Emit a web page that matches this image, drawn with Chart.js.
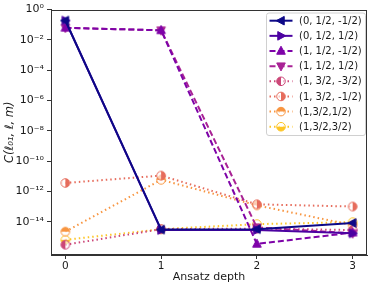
<!DOCTYPE html>
<html><head><meta charset="utf-8">
<script src="https://cdn.jsdelivr.net/npm/chart.js@4/dist/chart.umd.min.js"></script>
<style>html,body{margin:0;padding:0;background:#fff}canvas{display:block}</style>
</head><body>
<canvas id="c" width="374" height="287"></canvas>
<script>
const depths = [0, 1, 2, 3];
const labels = ["(0, 1/2, -1/2)", "(0, 1/2, 1/2)", "(1, 1/2, -1/2)", "(1, 1/2, 1/2)",
                "(1, 3/2, -3/2)", "(1, 3/2, -1/2)", "(1,3/2,1/2)", "(1,3/2,3/2)"];
const s0 = [0.19, 3.0e-15, 3.2e-15, 8.3e-15];
const s1 = [0.19, 2.8e-15, 2.8e-15, 1.7e-15];
const s2 = [0.063, 0.043, 3.4e-16, 1.9e-15];
const s3 = [0.063, 0.043, 4.2e-15, 1.7e-15];
const s4 = [3.0e-16, 3.2e-15, 3.5e-15, 2.8e-15];
const s5 = [3.6e-12, 1.1e-11, 1.4e-13, 1.0e-13];
const s6 = [2.2e-15, 5.8e-12, 1.2e-13, 5.9e-15];
const s7 = [6.3e-16, 3.2e-15, 6.9e-15, 9.3e-15];
const yTickExps = [0, -2, -4, -6, -8, -10, -12, -14];

const colors = ['#0d0887', '#4c02a1', '#7e03a8', '#a92395', '#cc4778', '#e66c5c', '#f89540', '#fdc527'];
const series = [s0, s1, s2, s3, s4, s5, s6, s7];
const dashes = [[], [], [6, 3], [6, 3], [1.5, 3], [1.5, 3], [1.5, 3], [1.5, 3]];
const markers = ['tri-left', 'tri-right', 'tri-up', 'tri-down', 'half-left', 'half-right', 'half-top', 'half-bottom'];

function drawMarker(ctx, kind, cx, cy, color) {
  ctx.save();
  ctx.setLineDash([]);
  ctx.fillStyle = color; ctx.strokeStyle = color; ctx.lineWidth = 1;
  const r = 4.3;
  if (kind.startsWith('tri')) {
    const rot = {'tri-up': 0, 'tri-right': Math.PI/2, 'tri-down': Math.PI, 'tri-left': -Math.PI/2}[kind];
    ctx.translate(cx, cy); ctx.rotate(rot);
    ctx.beginPath();
    ctx.moveTo(0, -r - 0.5); ctx.lineTo(r, r * 0.75); ctx.lineTo(-r, r * 0.75); ctx.closePath();
    ctx.fill(); ctx.stroke();
  } else {
    const start = {'half-left': Math.PI/2, 'half-right': -Math.PI/2, 'half-top': Math.PI, 'half-bottom': 0}[kind];
    ctx.beginPath(); ctx.arc(cx, cy, r, 0, 2 * Math.PI);
    ctx.fillStyle = 'rgba(255,255,255,0.6)'; ctx.fill();
    ctx.beginPath(); ctx.arc(cx, cy, r, start, start + Math.PI); ctx.closePath();
    ctx.fillStyle = color; ctx.fill();
    ctx.beginPath(); ctx.arc(cx, cy, r, 0, 2 * Math.PI); ctx.stroke();
  }
  ctx.restore();
}

function markerCanvas(kind, color) {
  const cv = document.createElement('canvas');
  cv.width = 12; cv.height = 12;
  drawMarker(cv.getContext('2d'), kind, 6, 6, color);
  return cv;
}

const datasets = series.map((s, i) => ({
  label: labels[i],
  data: depths.map((d, j) => ({x: d, y: s[j]})),
  borderColor: colors[i],
  backgroundColor: colors[i],
  borderWidth: 2,
  borderDash: dashes[i],
  pointStyle: markerCanvas(markers[i], colors[i]),
  pointRadius: 5,
  pointHoverRadius: 5,
  tension: 0
}));

const sup = {'0':'⁰','1':'¹','2':'²','3':'³','4':'⁴','5':'⁵','6':'⁶','7':'⁷','8':'⁸','9':'⁹','-':'⁻'};
function supStr(n) { return String(n).split('').map(ch => sup[ch]).join(''); }

const frameAndLegend = {
  id: 'frameAndLegend',
  afterDraw(chart) {
    const ctx = chart.ctx, a = chart.chartArea;
    ctx.save();
    ctx.strokeStyle = '#333'; ctx.lineWidth = 1;
    ctx.strokeRect(Math.round(a.left) + 0.5, Math.round(a.top) + 0.5, Math.round(a.right - a.left) - 1, Math.round(a.bottom - a.top) - 1);
    // legend
    const lx = 266, ly = 12.5, lw = 99, lh = 122.5;
    ctx.fillStyle = 'rgba(255,255,255,0.8)';
    ctx.strokeStyle = '#d0d0d0';
    ctx.beginPath();
    ctx.roundRect(lx + 0.5, ly + 0.5, lw, lh, 2.5);
    ctx.fill(); ctx.stroke();
    ctx.font = '10px "DejaVu Sans"';
    ctx.textBaseline = 'middle';
    labels.forEach((t, i) => {
      const y = 20.7 + i * 15.15;
      ctx.save();
      ctx.strokeStyle = colors[i]; ctx.lineWidth = 2;
      ctx.setLineDash(dashes[i]);
      ctx.beginPath(); ctx.moveTo(269.5, y); ctx.lineTo(292.5, y); ctx.stroke();
      ctx.restore();
      drawMarker(ctx, markers[i], 281, y, colors[i]);
      ctx.fillStyle = '#1a1a1a';
      ctx.fillText(t, 299, y + 0.5);
    });
    ctx.restore();
  }
};

new Chart(document.getElementById('c'), {
  type: 'line',
  data: {datasets},
  options: {
    responsive: false,
    animation: false,
    devicePixelRatio: 1,
    layout: {padding: {left: 0, right: 5, top: 7, bottom: 0}},
    plugins: {legend: {display: false}, tooltip: {enabled: false}},
    scales: {
      x: {
        type: 'linear', min: -0.15, max: 3.15,
        afterBuildTicks: s => { s.ticks = depths.map(v => ({value: v})); },
        afterFit: s => { s.height = 32; },
        border: {display: true, color: '#333', width: 1},
        grid: {display: true, drawOnChartArea: false, tickLength: 4, color: '#333'},
        ticks: {color: '#1a1a1a', font: {family: 'DejaVu Sans', size: 10.5}, padding: 1, maxRotation: 0,
                callback: v => String(v)},
        title: {display: true, text: 'Ansatz depth', color: '#1a1a1a', font: {family: 'DejaVu Sans', size: 11}, padding: {top: 0, bottom: 3}}
      },
      y: {
        type: 'logarithmic', min: Math.pow(10, -16.2), max: 1,
        afterBuildTicks: s => { s.ticks = yTickExps.map(e => ({value: Math.pow(10, e)})); },
        afterFit: s => { s.width = 51; },
        border: {display: true, color: '#333', width: 1},
        grid: {display: true, drawOnChartArea: false, tickLength: 4, color: '#333'},
        ticks: {color: '#1a1a1a', font: {family: 'DejaVu Sans', size: 11}, padding: 3,
                callback: v => '10' + supStr(Math.round(Math.log10(v)))},
        title: {display: true, text: 'C(ℓ₀₁, ℓ, m)', color: '#1a1a1a', font: {family: 'DejaVu Sans', size: 11.5, style: 'italic'}, padding: {top: 3, bottom: 0}}
      }
    }
  },
  plugins: [frameAndLegend]
});
</script>
</body></html>
